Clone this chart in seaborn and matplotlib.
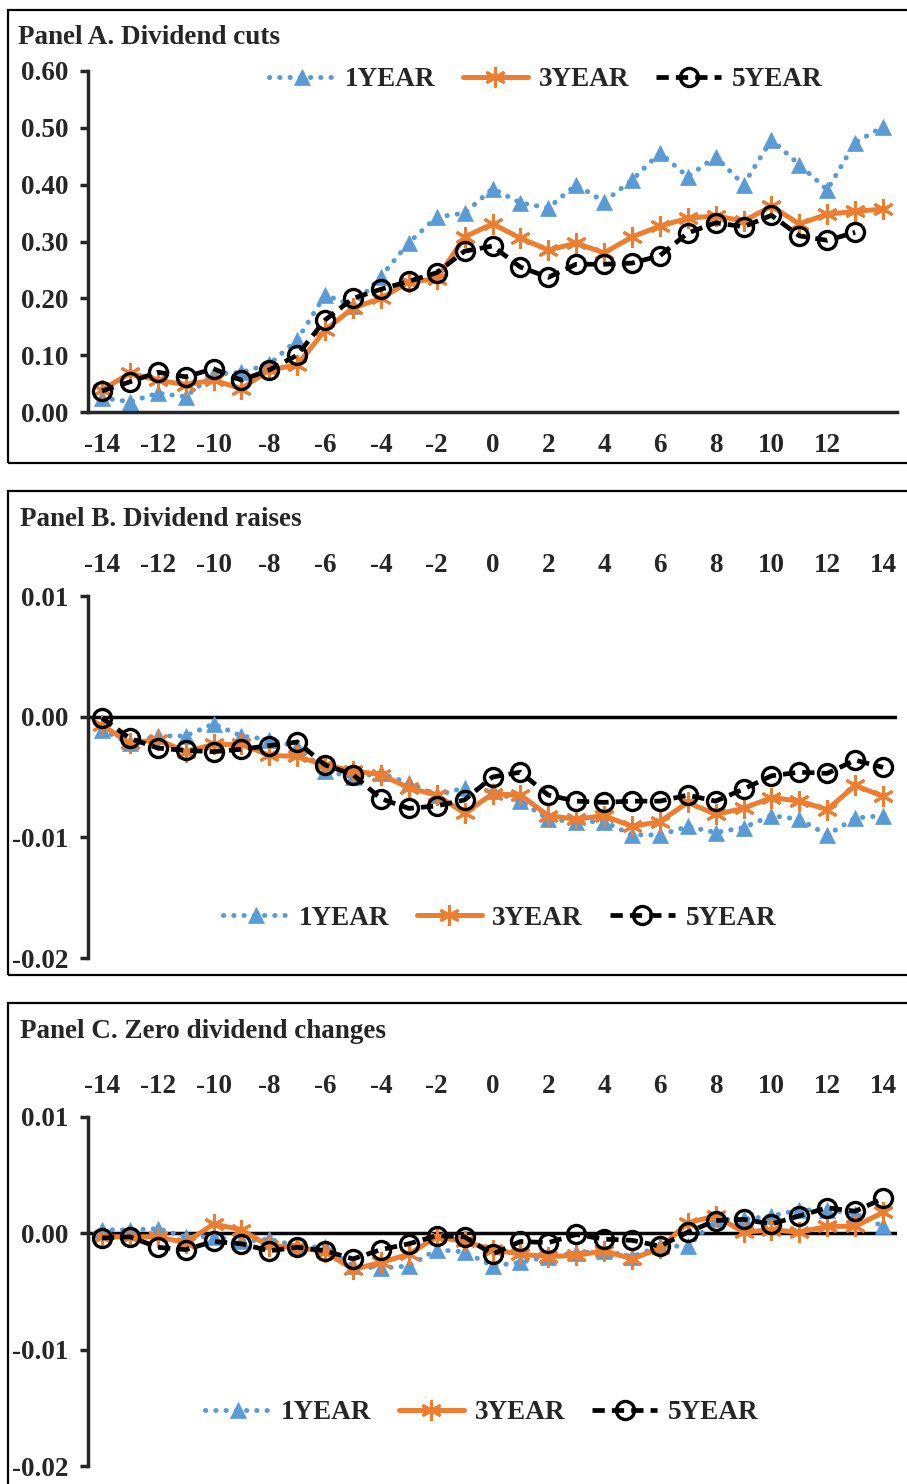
import numpy as np
import pandas as pd
import matplotlib
matplotlib.use("Agg")
import matplotlib.pyplot as plt
from matplotlib.patches import Rectangle
import seaborn as sns

# ---------------- data ----------------
event_time = list(range(-14, 15))

a_1year = [0.025, 0.018, 0.033, 0.027, 0.066, 0.070, 0.084, 0.127, 0.206, 0.187,
           0.238, 0.298, 0.343, 0.350, 0.393, 0.368, 0.359, 0.400, 0.370, 0.408,
           0.456, 0.414, 0.449, 0.400, 0.479, 0.435, 0.391, 0.474, 0.502]
a_3year = [0.039, 0.068, 0.056, 0.048, 0.056, 0.041, 0.074, 0.083, 0.144, 0.183,
           0.200, 0.229, 0.234, 0.308, 0.331, 0.306, 0.285, 0.297, 0.280, 0.308,
           0.327, 0.341, 0.345, 0.336, 0.362, 0.331, 0.348, 0.353, 0.357]
a_5year = [0.037, 0.053, 0.070, 0.062, 0.076, 0.056, 0.074, 0.100, 0.162, 0.200,
           0.216, 0.230, 0.245, 0.283, 0.292, 0.255, 0.237, 0.260, 0.260, 0.262,
           0.275, 0.315, 0.333, 0.326, 0.346, 0.310, 0.302, 0.316]

b_1year = [-0.0011, -0.0022, -0.0016, -0.0016, -0.0006, -0.0016, -0.0019, -0.0025, -0.0045, -0.0050,
           -0.0047, -0.0055, -0.0065, -0.0059, -0.0062, -0.0070, -0.0085, -0.0087, -0.0087, -0.0098,
           -0.0098, -0.0091, -0.0096, -0.0092, -0.0082, -0.0085, -0.0098, -0.0084, -0.0082]
b_3year = [-0.0007, -0.0022, -0.0019, -0.0029, -0.0023, -0.0023, -0.0032, -0.0033, -0.0040, -0.0045,
           -0.0048, -0.0059, -0.0065, -0.0080, -0.0064, -0.0065, -0.0082, -0.0085, -0.0082, -0.0091,
           -0.0087, -0.0071, -0.0081, -0.0076, -0.0067, -0.0070, -0.0077, -0.0057, -0.0066]
b_5year = [-0.0001, -0.0018, -0.0026, -0.0028, -0.0029, -0.0027, -0.0024, -0.0021, -0.0040, -0.0048,
           -0.0068, -0.0076, -0.0074, -0.0069, -0.0050, -0.0046, -0.0065, -0.0070, -0.0071, -0.0070,
           -0.0070, -0.0065, -0.0070, -0.0060, -0.0049, -0.0046, -0.0047, -0.0036, -0.0042]

c_1year = [0.0003, 0.0003, 0.0004, -0.0003, -0.0003, -0.0007, -0.0005, -0.0011, -0.0012, -0.0028,
           -0.0030, -0.0028, -0.0014, -0.0016, -0.0028, -0.0025, -0.0020, -0.0017, -0.0015, -0.0020,
           -0.0011, -0.0011, 0.0012, 0.0012, 0.0015, 0.0020, 0.0020, 0.0017, 0.0006]
c_3year = [-0.0003, -0.0003, -0.0003, -0.0008, 0.0008, 0.0003, -0.0011, -0.0012, -0.0016, -0.0031,
           -0.0025, -0.0018, -0.0003, -0.0007, -0.0014, -0.0018, -0.0020, -0.0019, -0.0015, -0.0022,
           -0.0013, 0.0009, 0.0015, 0.0001, 0.0003, 0.0001, 0.0006, 0.0006, 0.0018]
c_5year = [-0.0004, -0.0003, -0.0012, -0.0014, -0.0007, -0.0009, -0.0015, -0.0012, -0.0015, -0.0022,
           -0.0014, -0.0009, -0.0002, -0.0003, -0.0018, -0.0007, -0.0008, -0.0001, -0.0005, -0.0006,
           -0.0011, 0.0001, 0.0011, 0.0012, 0.0008, 0.0015, 0.0022, 0.0019, 0.0030]

series_names = ["1YEAR", "3YEAR", "5YEAR"]
panel_titles = ["Panel A. Dividend cuts", "Panel B. Dividend raises",
                "Panel C. Zero dividend changes"]
a_yticks = [0.0, 0.1, 0.2, 0.3, 0.4, 0.5, 0.6]
a_yticklabels = ["0.00", "0.10", "0.20", "0.30", "0.40", "0.50", "0.60"]
a_xticks = list(range(-14, 13, 2))
bc_yticks = [-0.02, -0.01, 0.0, 0.01]
bc_yticklabels = ["-0.02", "-0.01", "0.00", "0.01"]
bc_xticks = list(range(-14, 15, 2))

# ---------------- style ----------------
sns.set_style("white")
plt.rcParams["font.family"] = ["Liberation Serif", "DejaVu Serif"]
plt.rcParams["font.weight"] = "bold"
plt.rcParams["axes.unicode_minus"] = False

FS = 19.5
BLUE = "#5B9BD5"
ORANGE = "#ED7D31"
BLACK = "#000000"

W, H = 907, 1484
fig = plt.figure(figsize=(W / 100, H / 100), dpi=100)


def fx(px):
    return px / W


def fy(py):
    return 1 - py / H


def add_axes(left, top, right, bottom):
    return fig.add_axes([fx(left), fy(bottom), fx(right) - fx(left), fy(top) - fy(bottom)])


styles = [
    dict(color=BLUE, linestyle=(0, (0.05, 2.0)), linewidth=3.6, marker="^",
         markersize=11, markerfacecolor=BLUE, markeredgecolor=BLUE,
         markeredgewidth=0.5, dash_capstyle="round", solid_capstyle="round"),
    dict(color=ORANGE, linestyle="-", linewidth=3.6, marker=(6, 2, 0),
         markersize=15, markeredgecolor=ORANGE, markeredgewidth=2.2),
    dict(color=BLACK, linestyle=(0, (2.6, 1.5)), linewidth=3.4, marker="o",
         markersize=13, markerfacecolor="none", markeredgecolor=BLACK,
         markeredgewidth=2.4),
]


def draw_series(ax, data_list):
    for name, vals, st in zip(series_names, data_list, styles):
        xs = event_time[:len(vals)]
        df = pd.DataFrame({"t": xs, "v": vals})
        sns.lineplot(data=df, x="t", y="v", ax=ax, label=name, **st)


def finish_common(ax):
    ax.set_xlabel("")
    ax.set_ylabel("")
    ax.set_xlim(-14.5, 14.5)
    ax.spines["left"].set_linewidth(2.5)
    ax.spines["right"].set_visible(False)
    ax.spines["top"].set_visible(False)
    ax.tick_params(axis="y", direction="out", length=6, width=2.5, pad=8,
                   labelsize=FS, left=True)
    for lab in ax.get_yticklabels() + ax.get_xticklabels():
        lab.set_fontweight("bold")


def panel_border(top, bottom):
    fig.add_artist(Rectangle((fx(8), fy(bottom)), 1.2, fy(top) - fy(bottom),
                             transform=fig.transFigure, fill=False,
                             edgecolor="black", linewidth=1.6))


# ---------------- Panel A ----------------
panel_border(10, 463)
axA = add_axes(88, 71, 897, 412)
draw_series(axA, [a_1year, a_3year, a_5year])
finish_common(axA)
axA.set_ylim(0, 0.6)
axA.set_yticks(a_yticks)
axA.set_yticklabels(a_yticklabels, fontweight="bold", fontsize=FS)
axA.set_xticks(a_xticks)
axA.set_xticklabels([str(v) for v in a_xticks], fontweight="bold", fontsize=FS)
axA.spines["bottom"].set_linewidth(2.5)
axA.tick_params(axis="x", length=0, pad=15, labelsize=FS)
axA.legend(loc="center", bbox_to_anchor=(0.566, 0.974), ncol=3, frameon=False,
           handlelength=2.4, handletextpad=0.4, columnspacing=1.0,
           prop=dict(weight="bold", size=FS))
fig.text(fx(18), fy(38), panel_titles[0], fontsize=FS, fontweight="bold",
         ha="left", va="center")

# ---------------- Panels B and C ----------------
for (top_b, bot_b, ax_top, ax_bot, title_y, data, title, leg_xy) in [
        (491, 975, 596, 958, 519, [b_1year, b_3year, b_5year], panel_titles[1], (0.509, 0.11)),
        (1003, 1500, 1117, 1466, 1032, [c_1year, c_3year, c_5year], panel_titles[2], (0.487, 0.152))]:
    panel_border(top_b, bot_b)
    ax = add_axes(88, ax_top, 897, ax_bot)
    ax.axhline(0, color="black", linewidth=2.5, zorder=1)
    draw_series(ax, data)
    finish_common(ax)
    ax.spines["bottom"].set_visible(False)
    ax.set_ylim(-0.02, 0.01)
    ax.set_yticks(bc_yticks)
    ax.set_yticklabels(bc_yticklabels, fontweight="bold", fontsize=FS)
    ax.xaxis.tick_top()
    ax.set_xticks(bc_xticks)
    ax.set_xticklabels([str(v) for v in bc_xticks], fontweight="bold", fontsize=FS)
    ax.tick_params(axis="x", length=0, pad=13, labelsize=FS, top=True, bottom=False)
    ax.legend(loc="center", bbox_to_anchor=leg_xy, ncol=3, frameon=False,
              handlelength=2.4, handletextpad=0.4, columnspacing=1.0,
              prop=dict(weight="bold", size=FS))
    fig.text(fx(20), fy(title_y), title, fontsize=FS, fontweight="bold",
             ha="left", va="center")

fig.savefig("out.png", dpi=100)
